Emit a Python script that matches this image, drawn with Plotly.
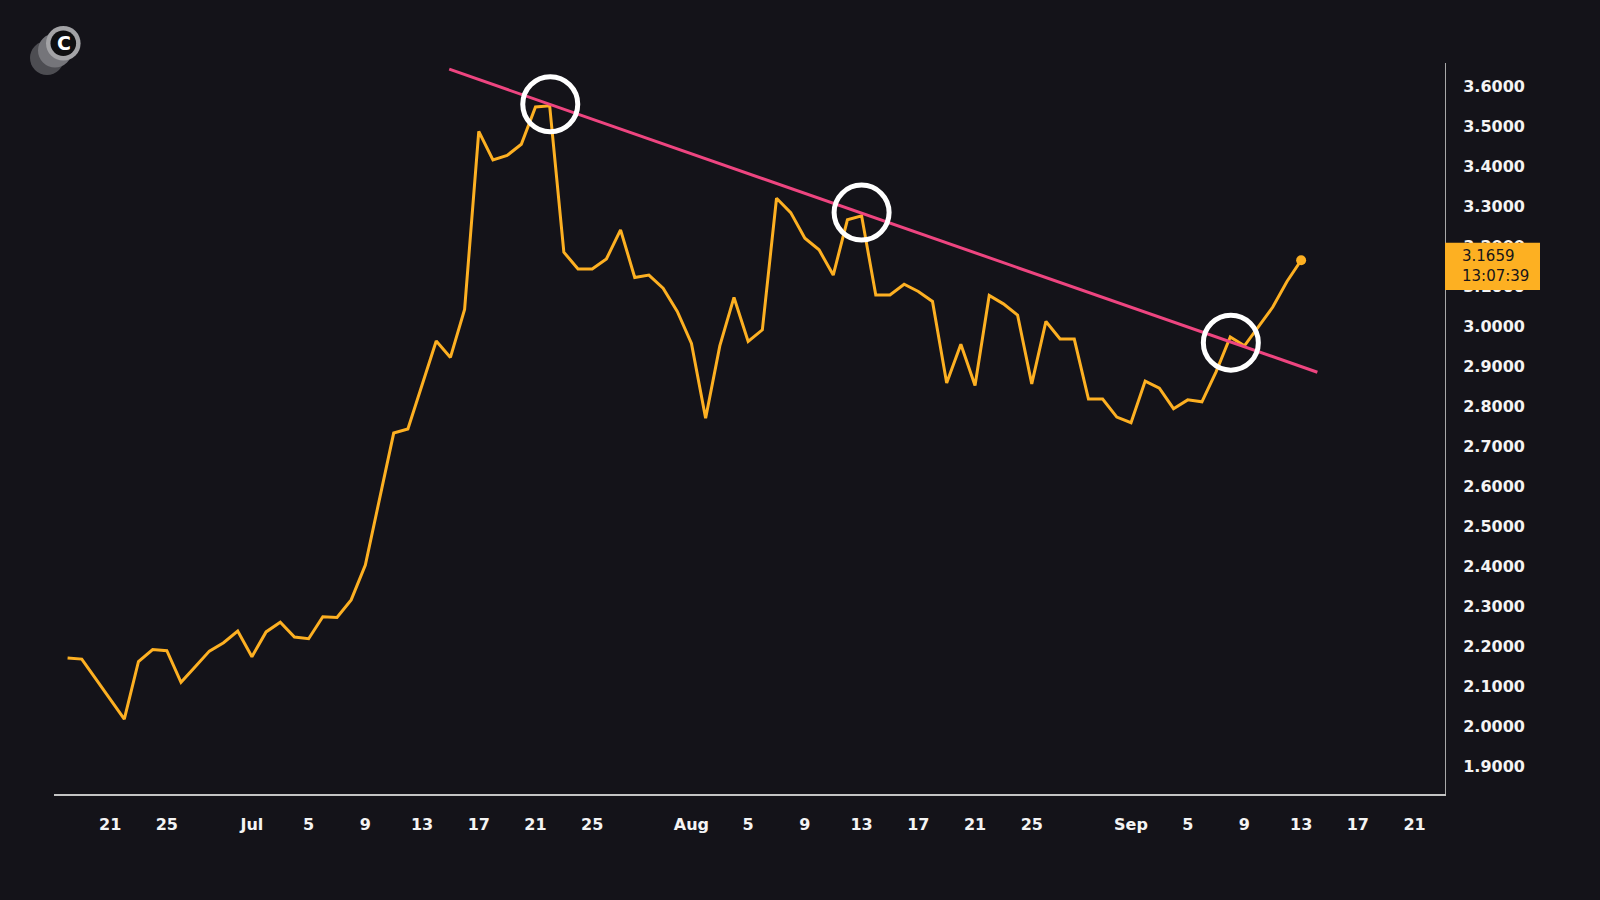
import pandas as pd
import plotly.graph_objects as go

# Daily closes, starting 2025-06-18
start_date = "2025-06-18"
close_prices = [
    2.172, 2.169, 2.119, 2.069, 2.019, 2.163, 2.193, 2.190, 2.111, 2.150,
    2.189, 2.210, 2.239, 2.175, 2.237, 2.261, 2.224, 2.220, 2.275, 2.273,
    2.317, 2.404, 2.565, 2.734, 2.744, 2.854, 2.964, 2.923, 3.043, 3.488,
    3.417, 3.428, 3.456, 3.549, 3.552, 3.186, 3.144, 3.144, 3.169, 3.242,
    3.123, 3.129, 3.096, 3.038, 2.958, 2.771, 2.952, 3.073, 2.963, 2.992,
    3.321, 3.285, 3.221, 3.192, 3.129, 3.267, 3.277, 3.079, 3.079, 3.106,
    3.088, 3.063, 2.859, 2.956, 2.853, 3.078, 3.057, 3.029, 2.857, 3.013,
    2.969, 2.969, 2.819, 2.819, 2.774, 2.760, 2.864, 2.846, 2.795, 2.817,
    2.812, 2.887, 2.974, 2.952, 3.000, 3.049, 3.113, 3.1659,
]
dates = pd.date_range(start_date, periods=len(close_prices), freq="D")

# Descending resistance line and the three touches on it
trend_dates = ["2025-07-14 22:00", "2025-09-14 03:30"]
trend_values = [3.6435, 2.886]
touch_dates = ["2025-07-22 01:00", "2025-08-13 00:00", "2025-09-08 01:00"]
touch_values = [3.556, 3.285, 2.960]

last_price_text = "3.1659"
last_time_text = "13:07:39"

x_tick_dates = [
    "2025-06-21", "2025-06-25", "2025-07-01", "2025-07-05", "2025-07-09",
    "2025-07-13", "2025-07-17", "2025-07-21", "2025-07-25", "2025-08-01",
    "2025-08-05", "2025-08-09", "2025-08-13", "2025-08-17", "2025-08-21",
    "2025-08-25", "2025-09-01", "2025-09-05", "2025-09-09", "2025-09-13",
    "2025-09-17", "2025-09-21",
]
x_tick_text = [
    "21", "25", "Jul", "5", "9", "13", "17", "21", "25", "Aug",
    "5", "9", "13", "17", "21", "25", "Sep", "5", "9", "13", "17", "21",
]
y_tick_values = [1.9, 2.0, 2.1, 2.2, 2.3, 2.4, 2.5, 2.6, 2.7, 2.8,
                 2.9, 3.0, 3.1, 3.2, 3.3, 3.4, 3.5, 3.6]

BG = "#141319"
ORANGE = "#FDB022"
PINK = "#EE4580"
TEXT = "#F4F4F4"
FONT = "DejaVu Sans"

fig = go.Figure()

fig.add_trace(go.Scatter(
    x=dates, y=close_prices, mode="lines",
    line=dict(color=ORANGE, width=3), hoverinfo="skip",
))
fig.add_trace(go.Scatter(
    x=trend_dates, y=trend_values, mode="lines",
    line=dict(color=PINK, width=3), hoverinfo="skip",
))
fig.add_trace(go.Scatter(
    x=touch_dates, y=touch_values, mode="markers",
    marker=dict(symbol="circle-open", size=55, color="white",
                line=dict(color="white", width=5)),
    hoverinfo="skip",
))
fig.add_trace(go.Scatter(
    x=[dates[-1]], y=[close_prices[-1]], mode="markers",
    marker=dict(size=10, color=ORANGE), hoverinfo="skip",
))

# Last-price badge on the price scale
fig.add_shape(
    type="rect", xref="paper", yref="y",
    xsizemode="pixel", xanchor=1, x0=0, x1=95,
    ysizemode="pixel", yanchor=close_prices[-1], y0=-29.7, y1=17.6,
    fillcolor=ORANGE, line=dict(width=0), layer="above",
)
fig.add_annotation(
    xref="paper", yref="y", x=1, y=close_prices[-1],
    xanchor="left", yanchor="middle", xshift=15, yshift=-6,
    text=f"{last_price_text}<br>{last_time_text}", align="left",
    showarrow=False, font=dict(family=FONT, size=15, color="#16151a"),
)

# Logo: stacked discs with a "C" badge
for dx, dy, r, col in [(-7, 5, 17, "#4d4d52"), (1, 12.5, 17, "#75757a"),
                       (9.3, 19.7, 17.3, "#a3a3a6"), (9.3, 19.7, 12.8, "#0e0e10")]:
    fig.add_shape(
        type="circle", xref="paper", yref="paper",
        xsizemode="pixel", xanchor=0, x0=dx - r, x1=dx + r,
        ysizemode="pixel", yanchor=1, y0=dy - r, y1=dy + r,
        fillcolor=col, line=dict(width=0), layer="above",
    )
fig.add_annotation(
    xref="paper", yref="paper", x=0, y=1, xshift=9.8, yshift=19.7,
    xanchor="center", yanchor="middle", text="<b>C</b>", showarrow=False,
    font=dict(family=FONT, size=19, color="white"),
)

fig.update_layout(
    width=1600, height=900,
    paper_bgcolor=BG, plot_bgcolor=BG,
    margin=dict(l=54, r=155, t=63, b=106, autoexpand=False),
    showlegend=False, hovermode=False,
    font=dict(family=FONT, color=TEXT),
    xaxis=dict(
        type="date", range=["2025-06-17 01:00", "2025-09-23 03:30"],
        tickmode="array", tickvals=x_tick_dates, ticktext=x_tick_text,
        showgrid=False, zeroline=False, ticks="",
        showline=True, linecolor="#c4c4c4", linewidth=1.5,
        tickfont=dict(family=FONT, size=16, color=TEXT, weight="bold"),
        ticklabelstandoff=15,
    ),
    yaxis=dict(
        side="right", range=[1.8318, 3.659],
        tickmode="array", tickvals=y_tick_values, tickformat=".4f",
        showgrid=False, zeroline=False, ticks="",
        showline=True, linecolor="#a8a8a8", linewidth=1,
        tickfont=dict(family=FONT, size=16, color=TEXT, weight="bold"),
        ticklabelstandoff=14,
    ),
)

fig.write_html("out.html")
